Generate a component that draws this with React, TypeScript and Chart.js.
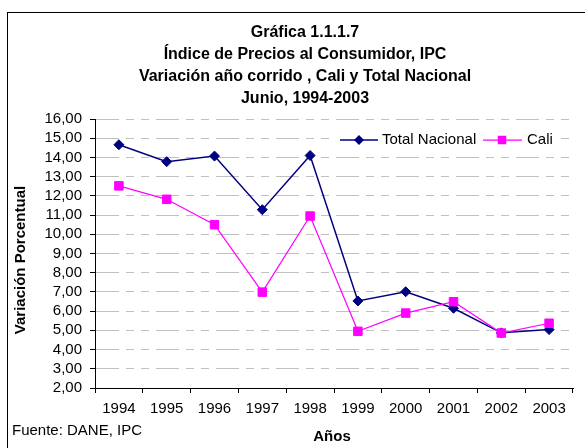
import React, { useEffect, useRef } from "react";
import { Chart, registerables } from "chart.js";

Chart.register(...registerables);

const years = ["1994", "1995", "1996", "1997", "1998", "1999", "2000", "2001", "2002", "2003"];
const totalNacional = [14.66, 13.78, 14.07, 11.28, 14.1, 6.53, 7.01, 6.15, 4.87, 5.04];
const cali = [12.52, 11.82, 10.5, 6.99, 10.95, 4.95, 5.9, 6.49, 4.86, 5.37];
const yMin = 2;
const yMax = 16;
const titleLines = [
  "Gráfica 1.1.1.7",
  "Índice de Precios al Consumidor, IPC",
  "Variación año corrido , Cali y Total Nacional",
  "Junio, 1994-2003",
];
const yTitle = "Variación Porcentual";
const xTitle = "Años";
const sourceText = "Fuente: DANE, IPC";
const seriesNames = ["Total Nacional", "Cali"];

const NAVY = "#000080";
const MAGENTA = "#FF00FF";
const FONT = '"Liberation Sans", Arial, sans-serif';

const legendBgPlugin = {
  id: "legendBg",
  beforeDatasetsDraw(chart: any) {
    const ctx: CanvasRenderingContext2D = chart.ctx;
    ctx.save();
    ctx.fillStyle = "#fff";
    ctx.fillRect(336, 131, 219, 18);
    ctx.restore();
  },
};

const decoPlugin = {
  id: "deco",
  afterDraw(chart: any) {
    const ctx: CanvasRenderingContext2D = chart.ctx;
    ctx.save();
    // frame
    ctx.strokeStyle = "#000";
    ctx.lineWidth = 1;
    ctx.strokeRect(7.5, 12.5, 800, 800);
    // title
    ctx.fillStyle = "#000";
    ctx.textAlign = "center";
    ctx.textBaseline = "middle";
    ctx.font = `bold 16px ${FONT}`;
    titleLines.forEach((l, i) => ctx.fillText(l, 305, 33 + i * 22));
    // y title
    ctx.save();
    ctx.translate(21, 260);
    ctx.rotate(-Math.PI / 2);
    ctx.font = `bold 15px ${FONT}`;
    ctx.fillText(yTitle, 0, 0);
    ctx.restore();
    // x title
    ctx.font = `bold 15px ${FONT}`;
    ctx.fillText(xTitle, 332, 437);
    // source
    ctx.textAlign = "left";
    ctx.font = `15px ${FONT}`;
    ctx.fillText(sourceText, 12, 431);
    // legend
    const ly = 140;
    ctx.strokeStyle = NAVY;
    ctx.lineWidth = 1.5;
    ctx.beginPath();
    ctx.moveTo(340, ly);
    ctx.lineTo(378, ly);
    ctx.stroke();
    ctx.fillStyle = NAVY;
    ctx.beginPath();
    ctx.moveTo(359 - 5, ly);
    ctx.lineTo(359, ly - 5);
    ctx.lineTo(359 + 5, ly);
    ctx.lineTo(359, ly + 5);
    ctx.closePath();
    ctx.fill();
    ctx.fillStyle = "#000";
    ctx.fillText(seriesNames[0], 382, ly);
    ctx.strokeStyle = MAGENTA;
    ctx.lineWidth = 1.25;
    ctx.beginPath();
    ctx.moveTo(483, ly);
    ctx.lineTo(522, ly);
    ctx.stroke();
    ctx.fillStyle = MAGENTA;
    ctx.fillRect(502 - 4.25, ly - 4.25, 8.5, 8.5);
    ctx.fillStyle = "#000";
    ctx.fillText(seriesNames[1], 527, ly);
    ctx.restore();
  },
};

export default function App() {
  const ref = useRef<HTMLCanvasElement | null>(null);
  useEffect(() => {
    if (!ref.current) return;
    const chart = new Chart(ref.current, {
      type: "line",
      data: {
        labels: years,
        datasets: [
          {
            label: seriesNames[0],
            data: totalNacional,
            borderColor: NAVY,
            backgroundColor: NAVY,
            borderWidth: 1.5,
            pointStyle: "rectRot",
            pointRadius: 5,
            pointBorderWidth: 1,
            order: 2,
          },
          {
            label: seriesNames[1],
            data: cali,
            borderColor: MAGENTA,
            backgroundColor: MAGENTA,
            borderWidth: 1.25,
            pointStyle: "rect",
            pointRadius: 6,
            pointBorderWidth: 1,
            order: 1,
          },
        ],
      },
      options: {
        responsive: false,
        animation: false,
        devicePixelRatio: 1,
        layout: { padding: { left: 0, top: 119, right: 12, bottom: 0 } },
        plugins: {
          legend: { display: false },
          title: { display: false },
          tooltip: { enabled: false },
        },
        scales: {
          x: {
            type: "category",
            offset: true,
            grid: {
              offset: true,
              drawOnChartArea: false,
              drawTicks: true,
              tickLength: 5,
              tickColor: "#000",
            },
            border: { display: true, color: "#000", width: 1 },
            ticks: {
              color: "#000",
              font: { family: FONT, size: 15 },
              padding: 7,
              maxRotation: 0,
              autoSkip: false,
            },
            afterFit(scale: any) {
              scale.height = 60;
            },
          },
          y: {
            min: yMin,
            max: yMax,
            grid: {
              color: "#c0c0c0",
              drawTicks: true,
              tickLength: 5,
              tickColor: "#000",
              tickBorderDash: [],
            } as any,
            border: { display: true, color: "#000", width: 1, dash: [23, 7, 8, 7, 8, 7] } as any,
            ticks: {
              stepSize: 1,
              autoSkip: false,
              color: "#000",
              font: { family: FONT, size: 15 },
              padding: 8,
              callback: (v: any) => Number(v).toFixed(2).replace(".", ","),
            },
            afterFit(scale: any) {
              scale.width = 95;
            },
          },
        },
      },
      plugins: [legendBgPlugin, decoPlugin],
    });
    return () => chart.destroy();
  }, []);
  return (
    <div style={{ position: "fixed", left: 0, top: 0, width: 585, height: 448, background: "#fff" }}>
      <canvas ref={ref} width={585} height={448} style={{ display: "block" }} />
    </div>
  );
}
